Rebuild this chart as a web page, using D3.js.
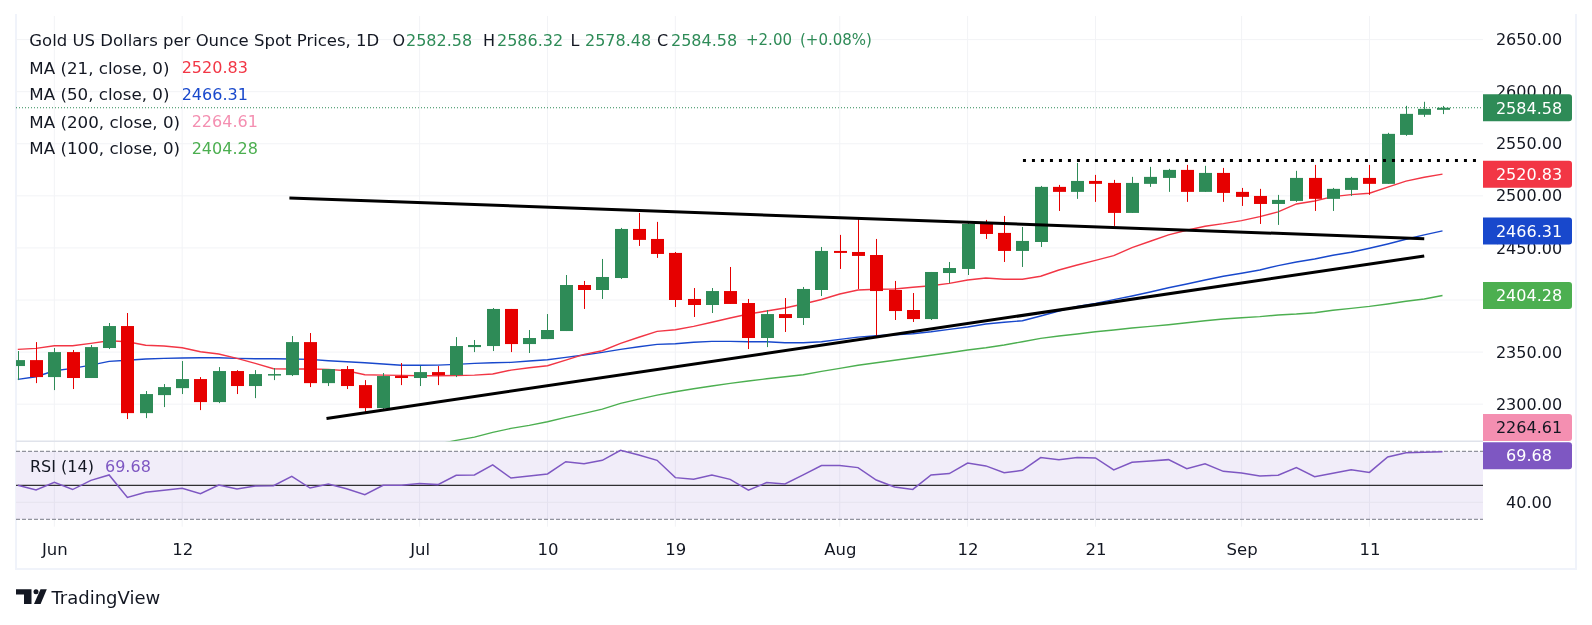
<!DOCTYPE html>
<html>
<head>
<meta charset="utf-8">
<script src="https://cdn.jsdelivr.net/npm/d3@7"></script>
<style>
html, body { margin: 0; padding: 0; background: #fff; }
svg { display: block; }
text { font-family: "DejaVu Sans", sans-serif; fill: #131722; }
</style>
</head>
<body>
<script>
// candles (first is cut off by the left edge)
const opens = [2336.6,2342.3,2326.0,2350.0,2325.1,2353.9,2375.0,2291.4,2308.7,2315.4,2324.1,2302.0,2331.8,2317.4,2327.9,2327.9,2359.6,2320.2,2333.7,2318.3,2296.2,2327.0,2325.1,2330.8,2327.9,2354.8,2355.8,2391.4,2357.7,2362.5,2370.2,2414.4,2409.6,2421.1,2468.2,2458.6,2445.2,2401.0,2395.2,2408.6,2397.1,2363.5,2386.5,2382.7,2409.6,2447.1,2446.1,2443.2,2409.6,2390.4,2381.7,2425.9,2429.8,2473.0,2464.4,2447.1,2455.7,2508.6,2503.8,2514.3,2512.4,2483.6,2511.5,2517.2,2524.9,2503.8,2522.0,2503.8,2499.9,2492.2,2495.1,2517.2,2497.1,2505.7,2517.2,2511.5,2558.5,2577.8,2582.58];
const highs = [2351.0,2359.6,2353.9,2352.0,2356.8,2377.9,2387.5,2312.6,2319.3,2341.4,2326.0,2335.6,2332.7,2332.7,2334.7,2365.4,2368.3,2333.7,2336.6,2323.1,2329.9,2339.5,2336.6,2336.6,2364.4,2361.6,2392.3,2391.4,2371.2,2386.5,2424.0,2418.3,2439.4,2469.2,2483.6,2475.0,2446.1,2411.5,2411.5,2431.7,2401.0,2390.4,2401.9,2412.5,2450.9,2462.5,2477.8,2458.6,2418.3,2406.7,2426.9,2436.5,2474.0,2476.9,2480.7,2470.1,2509.5,2510.5,2531.6,2520.1,2515.3,2518.2,2527.8,2525.9,2529.7,2528.8,2526.8,2507.6,2506.7,2500.9,2524.0,2529.7,2507.6,2518.2,2529.7,2560.5,2586.4,2590.3,2586.32];
const lows = [2323.1,2320.2,2313.5,2314.5,2325.1,2352.9,2285.7,2286.6,2297.2,2309.7,2294.3,2301.0,2309.7,2305.8,2323.1,2327.0,2316.4,2317.4,2314.5,2292.4,2295.3,2318.3,2317.4,2318.3,2326.0,2350.0,2351.0,2350.0,2349.1,2362.5,2370.2,2391.4,2401.0,2420.2,2451.9,2440.4,2393.3,2383.7,2387.5,2396.2,2352.9,2354.8,2369.3,2376.0,2403.8,2429.8,2410.6,2363.5,2380.8,2378.9,2380.8,2416.3,2424.0,2458.6,2436.5,2431.7,2450.9,2485.5,2497.1,2494.2,2471.1,2483.6,2508.6,2503.8,2494.2,2503.8,2494.2,2490.3,2473.0,2472.1,2494.2,2485.5,2485.5,2499.9,2500.9,2511.5,2557.6,2575.8,2578.48];
const closes = [2342.3,2326.0,2350.0,2325.1,2354.8,2375.0,2291.4,2309.7,2316.4,2324.1,2302.0,2331.8,2317.4,2328.9,2328.9,2359.6,2320.2,2333.7,2317.4,2296.2,2327.0,2325.1,2330.8,2327.9,2355.8,2356.8,2391.4,2357.7,2363.5,2371.2,2414.4,2409.6,2422.1,2468.2,2457.7,2444.2,2400.0,2395.2,2408.6,2396.2,2363.5,2386.5,2382.7,2410.6,2447.1,2445.2,2442.3,2408.6,2389.4,2381.7,2426.9,2430.7,2473.0,2463.4,2447.1,2456.7,2508.6,2503.8,2514.3,2511.5,2483.6,2512.4,2518.2,2524.9,2503.8,2522.0,2502.8,2499.0,2492.2,2496.1,2517.2,2497.1,2506.7,2517.2,2511.5,2559.5,2578.7,2583.5,2584.58];

// moving averages
const ma21 = [2352.6,2353.6,2356.1,2356.1,2358.4,2360.9,2359.9,2356.5,2355.8,2354.2,2350.3,2348.1,2344.0,2339.2,2334.0,2333.7,2333.7,2333.4,2332.1,2328.2,2327.9,2327.6,2327.3,2327.3,2327.5,2327.9,2328.9,2332.7,2334.9,2336.9,2342.3,2347.8,2351.3,2358.4,2364.2,2369.9,2371.5,2374.7,2378.6,2382.7,2386.5,2389.4,2392.3,2396.2,2400.5,2405.8,2409.6,2410.3,2410.6,2412.2,2413.7,2416.0,2419.2,2421.1,2419.9,2419.9,2422.8,2428.8,2433.6,2438.1,2442.6,2450.3,2456.4,2462.5,2467.0,2470.8,2473.3,2476.2,2480.0,2484.6,2492.2,2495.1,2499.3,2501.2,2502.5,2508.3,2514.1,2517.9,2520.83];
const ma50 = [2323.8,2326.3,2332.1,2334.4,2337.5,2341.1,2342.1,2343.3,2344.0,2344.3,2344.6,2344.6,2344.0,2343.6,2343.6,2343.3,2343.0,2341.7,2340.7,2339.8,2338.5,2337.3,2337.3,2337.5,2338.2,2339.2,2339.8,2340.1,2341.4,2342.6,2344.9,2347.2,2349.7,2352.6,2355.1,2357.4,2358.0,2359.4,2360.3,2360.3,2359.9,2359.9,2359.0,2359.0,2359.9,2362.2,2364.4,2365.7,2366.7,2367.6,2369.5,2371.8,2374.1,2376.9,2378.6,2380.1,2384.6,2389.4,2393.9,2396.8,2400.3,2403.8,2407.7,2411.8,2415.4,2419.2,2422.8,2425.7,2428.8,2433.0,2436.5,2439.4,2443.0,2445.8,2449.7,2453.8,2458.3,2462.5,2466.31];
// the 100 day line only comes into the pane at candle 23
const ma100Start = 23;
const ma100 = [2261.6,2265.2,2268.4,2272.9,2276.7,2279.6,2283.1,2287.3,2291.1,2295.3,2300.7,2304.9,2308.7,2311.9,2314.8,2317.4,2320.0,2322.2,2324.4,2326.3,2328.2,2331.5,2334.4,2337.3,2339.8,2342.1,2344.6,2346.9,2349.4,2352.0,2354.2,2356.8,2359.9,2363.2,2365.4,2367.3,2369.5,2371.2,2373.1,2374.7,2376.3,2378.2,2380.1,2381.7,2383.0,2384.0,2385.6,2386.5,2387.8,2390.1,2392.0,2393.9,2396.2,2398.8,2401.0,2404.28];
const rsi14 = [50.0,47.3,51.8,47.5,52.9,56.1,42.9,45.9,47.1,48.2,45.1,50.2,47.8,49.6,49.8,55.3,48.4,50.8,48.0,44.5,50.0,50.0,51.0,50.4,55.9,56.1,62.0,54.3,55.5,56.7,63.9,62.7,64.7,70.6,67.8,64.7,54.5,53.5,56.1,53.5,47.1,51.6,50.8,56.1,61.6,61.6,60.4,53.1,49.0,47.6,56.1,56.9,63.1,61.4,57.4,58.8,66.3,65.1,66.3,66.1,59.0,63.5,64.3,65.1,59.8,62.7,58.2,57.3,55.5,55.9,60.4,55.1,57.1,59.2,57.6,66.7,69.2,69.4,69.68];

// axis ticks (the 2400 label is hidden behind the 2404.28 tag in the reference)
const priceTicks = [2300, 2350, 2400, 2450, 2500, 2550, 2600, 2650];
const priceLabels = [2300, 2350, 2450, 2500, 2550, 2600, 2650];
const rsiTicks = [40];
const dateIdx = [2, 9, 22, 29, 36, 45, 52, 59, 67, 74];
const dateLabels = ['Jun', '12', 'Jul', '10', '19', 'Aug', '12', '21', 'Sep', '11'];

// price tags on the right: label, value, colour
const tagValues = [2584.58, 2520.83, 2466.31, 2404.28];
const tagColors = ['#2e8b57', '#f23645', '#1848cc', '#4caf50'];

// drawn trendlines as [candle index, price]
const upperTrend = [[14.87, 2498.0], [77, 2458.9]];
const lowerTrend = [[16.9, 2286.3], [77, 2442.3]];
const resistance = [[55.03, 2533.9], [79.84, 2533.9]];

const width = 1592, height = 625;
const paneLeft = 16, paneRight = 1483, frameRight = 1576, paneTop = 16, paneBottom = 441.3, gridBottom = 526.7, frameBottom = 569;
const upGreen = '#2e8b57', downRed = '#e60000', gridCol = '#f2f3f6', ink = '#131722';

const x = d3.scaleLinear([0, 78], [17.8, 1442.5]);
const y = d3.scaleLinear([2400, 2650], [300, 39.6]);
const yRsi = d3.scaleLinear([30, 70], [519.3, 451.3]);

const svg = d3.select('body').append('svg').attr('width', width).attr('height', height);
svg.append('defs').append('clipPath').attr('id', 'pane')
    .append('rect').attr('x', paneLeft).attr('y', paneTop).attr('width', paneRight - paneLeft).attr('height', paneBottom - paneTop);

// frame
svg.append('path')
    .attr('d', `M${paneLeft},14V${frameBottom}H${frameRight}V14`)
    .style('fill', 'none').style('stroke', '#f0f3fa').style('stroke-width', 2);

// rsi band goes under the grid
svg.append('rect').attr('x', paneLeft).attr('width', paneRight - paneLeft)
    .attr('y', yRsi(70)).attr('height', yRsi(30) - yRsi(70))
    .style('fill', '#f1edf9');

// grid
let grid = svg.append('g');
grid.selectAll('.v').data(dateIdx).join('line').attr('class', 'v')
    .attr('x1', d => x(d)).attr('x2', d => x(d)).attr('y1', paneTop).attr('y2', gridBottom)
    .style('stroke', gridCol).style('mix-blend-mode', 'multiply');
grid.selectAll('.h').data(priceTicks).join('line').attr('class', 'h')
    .attr('x1', paneLeft).attr('x2', paneRight).attr('y1', d => y(d)).attr('y2', d => y(d))
    .style('stroke', gridCol);
grid.selectAll('.r').data(rsiTicks).join('line').attr('class', 'r')
    .attr('x1', paneLeft).attr('x2', paneRight).attr('y1', d => yRsi(d)).attr('y2', d => yRsi(d))
    .style('stroke', '#e6e3ee');
svg.append('line').attr('x1', paneLeft).attr('x2', paneRight).attr('y1', paneBottom).attr('y2', paneBottom)
    .style('stroke', '#e0e3eb').style('stroke-width', 1.5);

// main pane
let chart = svg.append('g').attr('clip-path', 'url(#pane)');

let lineGen = (start = 0) => d3.line().x((d, i) => x(i + start)).y(d => y(d));
let drawMA = (values, color, start = 0) => chart.append('path').datum(values)
    .attr('d', lineGen(start))
    .style('fill', 'none').style('stroke', color).style('stroke-width', 1.4);

drawMA(ma100, '#4caf50', ma100Start);
drawMA(ma50, '#1848cc');
drawMA(ma21, '#f23645');

// current price dotted line
chart.append('line').attr('x1', paneLeft).attr('x2', paneRight)
    .attr('y1', y(closes[closes.length - 1])).attr('y2', y(closes[closes.length - 1]))
    .style('stroke', upGreen).style('stroke-dasharray', '1 2');

let candle = chart.selectAll('.candle').data(d3.range(opens.length)).join('g').attr('class', 'candle');
candle.append('line')
    .attr('x1', i => Math.round(x(i)) + 0.5).attr('x2', i => Math.round(x(i)) + 0.5)
    .attr('y1', i => y(highs[i])).attr('y2', i => y(lows[i]))
    .style('stroke', i => closes[i] >= opens[i] ? upGreen : downRed);
candle.append('rect')
    .attr('x', i => Math.round(x(i)) - 6).attr('width', 13)
    .attr('y', i => y(Math.max(opens[i], closes[i])))
    .attr('height', i => Math.max(1.5, y(Math.min(opens[i], closes[i])) - y(Math.max(opens[i], closes[i]))))
    .style('fill', i => closes[i] >= opens[i] ? upGreen : downRed);

// annotations
let annot = d3.line().x(d => x(d[0])).y(d => y(d[1]));
[upperTrend, lowerTrend].forEach(t => chart.append('path').datum(t).attr('d', annot)
    .style('stroke', '#000').style('stroke-width', 3).style('fill', 'none'));
chart.append('path').datum(resistance).attr('d', annot)
    .style('stroke', '#000').style('stroke-width', 3).style('stroke-dasharray', '3 6').style('fill', 'none');

// rsi pane
svg.selectAll('.rsiBound').data([70, 30]).join('line').attr('class', 'rsiBound')
    .attr('x1', paneLeft).attr('x2', paneRight).attr('y1', d => yRsi(d)).attr('y2', d => yRsi(d))
    .style('stroke', '#787b86').style('stroke-dasharray', '4 2');
svg.append('line').attr('x1', paneLeft).attr('x2', paneRight).attr('y1', yRsi(50)).attr('y2', yRsi(50))
    .style('stroke', '#000');
svg.append('path').datum(rsi14)
    .attr('d', d3.line().x((d, i) => x(i)).y(d => yRsi(d)))
    .style('fill', 'none').style('stroke', '#7e57c2').style('stroke-width', 1.5);

// axes
let styleAxis = (g, size = '16px') => {
    g.select('.domain').remove();
    g.selectAll('text').style('font-size', size).style('fill', ink);
};
const tickX = 1529;
svg.append('g').attr('transform', `translate(${tickX},0)`)
    .call(d3.axisRight(y).tickValues(priceLabels).tickSize(0).tickPadding(0).tickFormat(d3.format('.2f')))
    .call(styleAxis)
    .selectAll('text').attr('text-anchor', 'middle');
svg.append('g').attr('transform', `translate(${tickX},0)`)
    .call(d3.axisRight(yRsi).tickValues(rsiTicks).tickSize(0).tickPadding(0).tickFormat(d3.format('.2f')))
    .call(styleAxis)
    .selectAll('text').attr('text-anchor', 'middle');
svg.append('g').attr('transform', 'translate(0,543)')
    .call(d3.axisBottom(x).tickValues(dateIdx).tickSize(0).tickPadding(0).tickFormat((d, i) => dateLabels[i]))
    .call(styleAxis, '16.5px');

// price tags
let tagPath = (yc, h = 27) => `M${paneRight},${yc - h / 2}H1569a3,3 0 0 1 3,3V${yc + h / 2 - 3}a3,3 0 0 1 -3,3H${paneRight}Z`;
let tag = (yc, color, label, textCol = '#fff') => {
    svg.append('path').attr('d', tagPath(yc)).style('fill', color);
    svg.append('text').attr('x', tickX).attr('y', yc).attr('dy', '0.36em')
        .attr('text-anchor', 'middle').style('font-size', '16px').style('fill', textCol).text(label);
};
tagValues.forEach((v, i) => tag(y(v), tagColors[i], v.toFixed(2)));
tag(427.5, '#f48fb1', '2264.61', ink);
tag(455.7, '#7e57c2', rsi14[rsi14.length - 1].toFixed(2));

// header legend
let legend = svg.append('g');
let put = (px, py, s, col = ink, size = '16px') => legend.append('text').attr('x', px).attr('y', py).attr('dy', '0.36em')
    .style('font-size', size).style('fill', col).text(s);
put(29.3, 40, 'Gold US Dollars per Ounce Spot Prices, 1D', ink, '16.5px');
[['O', 392.5, '2582.58', 406], ['H', 483, '2586.32', 497], ['L', 570.5, '2578.48', 585], ['C', 657, '2584.58', 671]].forEach(r => {
    put(r[1], 40, r[0]);
    put(r[3], 40, r[2], upGreen);
});
put(746, 40, '+2.00', upGreen, '15px');
put(800, 40, '(+0.08%)', upGreen, '15px');
put(29.3, 67.7, 'MA (21, close, 0)', ink, '16.7px'); put(181.7, 67.7, '2520.83', '#f23645');
put(29.3, 94.3, 'MA (50, close, 0)', ink, '16.7px'); put(181.7, 94.3, '2466.31', '#1848cc');
put(29.3, 121.7, 'MA (200, close, 0)', ink, '16.7px'); put(191.7, 121.7, '2264.61', '#f48fb1');
put(29.3, 148.3, 'MA (100, close, 0)', ink, '16.7px'); put(191.7, 148.3, '2404.28', '#4caf50');
put(30, 466.7, 'RSI (14)'); put(105, 466.7, '69.68', '#7e57c2');

// TradingView logo
let logo = svg.append('g').style('fill', ink);
logo.append('path').attr('d', 'M16,589.3H31.5V604H24V594.5H16Z');
logo.append('circle').attr('cx', 36).attr('cy', 591.8).attr('r', 2.5);
logo.append('path').attr('d', 'M40.5,589.3H46.8L40.6,604H34Z');
svg.append('text').attr('x', 51.5).attr('y', 598).attr('dy', '0.36em').style('font-size', '18px').text('TradingView');
</script>
</body>
</html>
